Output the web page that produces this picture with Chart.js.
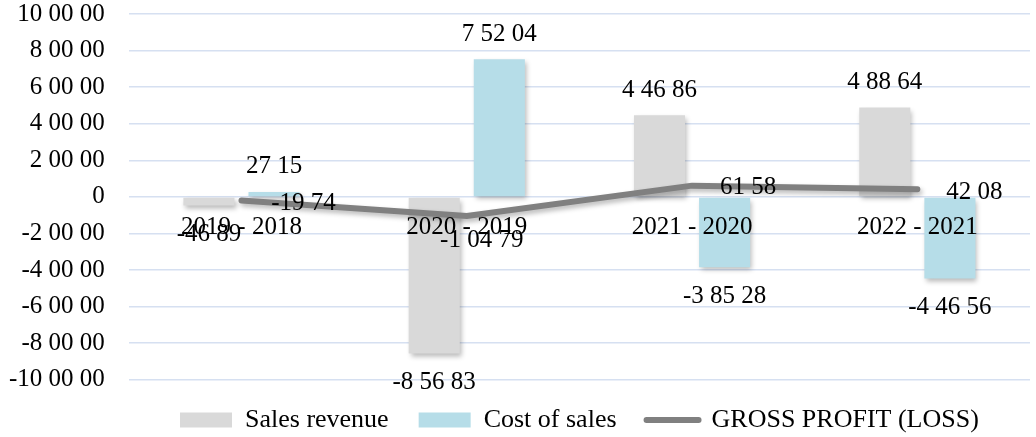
<!DOCTYPE html>
<html>
<head>
<meta charset="utf-8">
<script src="https://cdn.jsdelivr.net/npm/chart.js@4"></script>
<style>
  html, body { margin: 0; padding: 0; background: #fff; }
  #wrap { width: 1036px; height: 437px; }
</style>
</head>
<body>
<div id="wrap"><canvas id="chart"></canvas></div>
<script>
// Year-over-year changes
const periods = ['2019 - 2018', '2020 - 2019', '2021 - 2020', '2022 - 2021'];
const salesRevenue = [-4689, -85683, 44686, 48864];
const costOfSales = [2715, 75204, -38528, -44656];
const grossProfit = [-1974, -10479, 6158, 4208];
const yTicks = [-100000, -80000, -60000, -40000, -20000, 0, 20000, 40000, 60000, 80000, 100000];

const COLORS = {
  sales: '#d9d9d9',
  cost: '#b6dde8',
  profit: '#808080',
  grid: '#d6e0f1',
  text: '#000000'
};

const FONT = { family: '"Times New Roman", "Liberation Serif", serif', size: 25 };

// where the profit labels sit relative to their point (dx, dy)
const profitLabelShift = [[62, 3], [15, 24], [56, 2], [57, 3]];

// 100000 -> "10 00 00"
function fmt(v) {
  const s = Math.abs(Math.round(v)).toString();
  const parts = [];
  for (let i = s.length; i > 0; i -= 2) parts.unshift(s.slice(Math.max(0, i - 2), i));
  return (v < 0 ? '-' : '') + parts.join(' ');
}

// soft drop shadow under bars and the line
const shadowPlugin = {
  id: 'shadow',
  beforeDatasetsDraw(chart) {
    const ctx = chart.ctx;
    ctx.save();
    ctx.shadowColor = 'rgba(0, 0, 0, 0.28)';
    ctx.shadowBlur = 5;
    ctx.shadowOffsetX = 2;
    ctx.shadowOffsetY = 3;
  },
  afterDatasetsDraw(chart) {
    chart.ctx.restore();
  }
};

// value labels
const valueLabels = {
  id: 'valueLabels',
  afterDraw(chart) {
    const ctx = chart.ctx;
    ctx.save();
    ctx.font = `${FONT.size}px ${FONT.family}`;
    ctx.fillStyle = COLORS.text;
    ctx.textAlign = 'center';
    ctx.textBaseline = 'middle';
    chart.data.datasets.forEach((ds, di) => {
      const meta = chart.getDatasetMeta(di);
      meta.data.forEach((el, i) => {
        const v = ds.data[i];
        if (ds.type === 'line') {
          const [dx, dy] = profitLabelShift[i];
          ctx.fillText(fmt(v), el.x + dx, el.y + dy);
        } else if (v >= 0) {
          ctx.fillText(fmt(v), el.x, el.y - 25);
        } else {
          ctx.fillText(fmt(v), el.x, el.y + 29);
        }
      });
    });
    ctx.restore();
  }
};

new Chart(document.getElementById('chart'), {
  type: 'bar',
  data: {
    labels: periods,
    datasets: [
      {
        label: 'Sales revenue',
        data: salesRevenue,
        backgroundColor: COLORS.sales,
        categoryPercentage: 0.578,
        barPercentage: 0.785,
        order: 1
      },
      {
        label: 'Cost of sales',
        data: costOfSales,
        backgroundColor: COLORS.cost,
        categoryPercentage: 0.578,
        barPercentage: 0.785,
        order: 1
      },
      {
        type: 'line',
        label: 'GROSS PROFIT (LOSS)',
        data: grossProfit,
        borderColor: COLORS.profit,
        backgroundColor: COLORS.profit,
        borderWidth: 6,
        borderCapStyle: 'round',
        borderJoinStyle: 'round',
        pointRadius: 0,
        tension: 0,
        order: 0
      }
    ]
  },
  options: {
    responsive: true,
    maintainAspectRatio: false,
    animation: false,
    layout: { autoPadding: false, padding: { left: -15, right: 6, top: 14, bottom: -6 } },
    plugins: {
      tooltip: { enabled: false },
      legend: {
        position: 'bottom',
        fullSize: false,
        // empty title pulls the row back up so wider item gaps don't push it down
        title: { display: true, text: '', font: { size: 1 }, padding: { top: 0, bottom: -4 } },
        labels: {
          font: { family: FONT.family, size: 26 },
          color: COLORS.text,
          usePointStyle: true,
          pointStyleWidth: 52,
          boxHeight: 15,
          padding: 30,
          generateLabels: (chart) => chart.data.datasets.map((ds, i) => ({
            text: ds.label,
            datasetIndex: i,
            fillStyle: ds.backgroundColor,
            strokeStyle: ds.type === 'line' ? ds.borderColor : ds.backgroundColor,
            lineWidth: ds.type === 'line' ? 6 : 0,
            lineCap: 'round',
            pointStyle: ds.type === 'line' ? 'line' : 'rect',
            fontColor: COLORS.text,
            hidden: false
          }))
        }
      }
    },
    scales: {
      x: {
        position: { y: 0 },
        grid: { display: false },
        border: { display: false },
        ticks: { z: 1, font: FONT, color: COLORS.text, padding: 8, maxRotation: 0 }
      },
      y: {
        min: -100000,
        max: 100000,
        afterBuildTicks: (axis) => { axis.ticks = yTicks.map(v => ({ value: v })); },
        // the tick padding would otherwise be added above and below the plot
        afterFit: (axis) => { axis.paddingTop = 0; axis.paddingBottom = 0; },
        grid: { color: COLORS.grid, lineWidth: 1.5, drawTicks: false },
        border: { display: false },
        ticks: {
          font: FONT,
          color: COLORS.text,
          padding: 24,
          callback: (v) => fmt(v)
        }
      }
    }
  },
  plugins: [shadowPlugin, valueLabels]
});
</script>
</body>
</html>
